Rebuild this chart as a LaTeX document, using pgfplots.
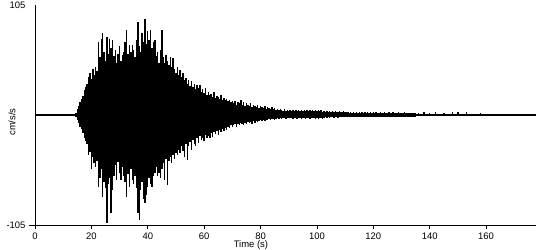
\documentclass[border=0pt]{standalone}
\usepackage{fontspec}
\setmainfont{Liberation Sans}
\usepackage{pgfplots}
\usepackage{pgfplotstable}
\pgfplotsset{compat=1.18}
\pgfplotstableread[row sep=\\]{
t up lo\\
14.5 2 -2\\ 15.0 6 -5\\ 15.5 9 -8\\ 16.0 12 -11\\ 16.5 15 -13\\ 17.0 18 -17\\ 17.5 24 -22\\ 18.0 27 -25\\ 18.5 30 -28\\ 19.0 36 -38\\
19.5 40 -35\\ 20.0 34 -52\\ 20.5 44 -40\\ 21.0 38 -46\\ 21.5 46 -50\\ 22.0 42 -44\\ 22.5 70 -69\\ 23.0 55 -60\\ 23.5 73 -52\\ 24.0 78 -78\\
24.5 60 -64\\ 25.0 52 -70\\ 25.5 74 -103\\ 26.0 58 -66\\ 26.5 73 -60\\ 27.0 64 -94\\ 27.5 72 -72\\ 28.0 56 -58\\ 28.5 62 -48\\ 29.0 50 -62\\
29.5 58 -45\\ 30.0 66 -55\\ 30.5 52 -62\\ 31.0 57 -50\\ 31.5 60 -58\\ 32.0 70 -64\\ 32.5 81 -78\\ 33.0 58 -56\\ 33.5 67 -69\\ 34.0 60 -52\\
34.5 67 -62\\ 35.0 62 -66\\ 35.5 55 -58\\ 36.0 72 -70\\ 36.5 89 -94\\ 37.0 66 -100\\ 37.5 60 -72\\ 38.0 78 -64\\ 38.5 70 -80\\ 39.0 92 -84\\
39.5 68 -76\\ 40.0 80 -69\\ 40.5 72 -60\\ 41.0 81 -66\\ 41.5 64 -69\\ 42.0 70 -58\\ 42.5 72 -55\\ 43.0 56 -50\\ 43.5 60 -58\\ 44.0 50 -55\\
44.5 62 -60\\ 45.0 81 -52\\ 45.5 55 -46\\ 46.0 50 -62\\ 46.5 57 -42\\ 47.0 52 -67\\ 47.5 48 -44\\ 48.0 55 -40\\ 48.5 46 -46\\ 49.0 54 -38\\
49.5 44 -42\\ 50.0 40 -36\\ 50.5 46 -38\\ 51.0 38 -33\\ 51.5 43 -36\\ 52.0 36 -30\\ 52.5 40 -34\\ 53.0 33 -40\\ 53.5 35 -28\\ 54.0 30 -43\\
54.5 33 -30\\ 55.0 28 -26\\ 55.5 32 -33\\ 56.0 27 -24\\ 56.5 30 -28\\ 57.0 25 -30\\ 57.5 29 -22\\ 58.0 26 -27\\ 58.5 29 -20\\ 59.0 22 -24\\
59.5 25 -22\\ 60.0 21 -25\\ 60.5 26 -19\\ 61.0 19 -22\\ 61.5 22 -20\\ 62.0 19 -22\\ 62.5 20 -17\\ 63.0 17 -21\\ 63.5 22 -16\\ 64.0 16 -18\\
64.5 18 -15\\ 65.0 17 -19\\ 65.5 15 -14\\ 66.0 19 -16\\ 66.5 14 -13\\ 67.0 16 -15\\ 67.5 14 -12\\ 68.0 15 -14\\ 68.5 13 -11\\ 69.0 14 -12\\
69.5 12 -10\\ 70.0 13 -11\\ 70.5 11 -10\\ 71.0 13 -9\\ 71.5 10 -11\\ 72.0 12 -9\\ 72.5 11 -10\\ 73.0 14 -8\\ 73.5 10 -9\\ 74.0 12 -10\\
74.5 9 -8\\ 75.0 11 -9\\ 75.5 10 -7\\ 76.0 9 -8\\ 76.5 11 -7\\ 77.0 8 -9\\ 77.5 10 -6\\ 78.0 9 -8\\ 78.5 8 -6\\ 79.0 10 -7\\
79.5 7 -6\\ 80.0 9 -5\\ 80.5 8 -6\\ 81.0 7 -5\\ 81.5 9 -6\\ 82.0 6 -5\\ 82.5 8 -5\\ 83.0 7 -4\\ 83.5 6 -5\\ 84.0 8 -4\\
84.5 6 -4\\ 85.0 7 -5\\ 85.5 5 -4\\ 86.0 6 -3\\ 86.5 5 -4\\ 87.0 6 -3\\ 87.5 5 -4\\ 88.0 4 -3\\ 88.5 6 -3\\ 89.0 4 -4\\
89.5 5 -3\\ 90.0 4 -3\\ 90.5 5 -3\\ 91.0 4 -3\\ 91.5 5 -4\\ 92.0 4 -3\\ 92.5 5 -3\\ 93.0 4 -4\\ 93.5 5 -3\\ 94.0 4 -3\\
94.5 5 -4\\ 95.0 4 -3\\ 95.5 5 -3\\ 96.0 4 -4\\ 96.5 5 -3\\ 97.0 4 -3\\ 97.5 5 -4\\ 98.0 4 -3\\ 98.5 5 -3\\ 99.0 4 -3\\
99.5 5 -4\\ 100.0 4 -3\\ 100.5 5 -4\\ 101.0 4 -3\\ 101.5 5 -3\\ 102.0 3 -4\\ 102.5 4 -3\\ 103.0 3 -2\\ 103.5 4 -3\\ 104.0 3 -2\\
104.5 4 -3\\ 105.0 3 -2\\ 105.5 4 -2\\ 106.0 3 -3\\ 106.5 4 -2\\ 107.0 3 -2\\ 107.5 3 -3\\ 108.0 4 -2\\ 108.5 3 -2\\ 109.0 3 -2\\
109.5 4 -2\\ 110.0 3 -2\\ 110.5 3 -2\\ 111.0 3 -2\\ 111.5 2 -2\\ 112.0 3 -2\\ 112.5 2 -1.5\\ 113.0 3 -2\\ 113.5 2 -2\\ 114.0 3 -1.5\\
114.5 2 -2\\ 115.0 3 -2\\ 115.5 2 -1.5\\ 116.0 3 -2\\ 116.5 2 -2\\ 117.0 3 -1.5\\ 117.5 2 -2\\ 118.0 2.5 -2\\ 118.5 2 -1.5\\ 119.0 3 -2\\
119.5 2 -1.5\\ 120.0 2.5 -2\\ 120.5 2 -1.5\\ 121.0 3 -2\\ 121.5 2 -1.5\\ 122.0 2 -2\\ 122.5 2.5 -1.5\\ 123.0 2 -1.5\\ 123.5 2 -2\\ 124.0 3 -1.5\\
124.5 2 -1.5\\ 125.0 2 -1.5\\ 125.5 2.5 -1.5\\ 126.0 2 -1.5\\ 126.5 2 -1.5\\ 127.0 3 -1.5\\ 127.5 2 -1.5\\ 128.0 2 -1.5\\ 128.5 2 -1.5\\ 129.0 2.5 -1.5\\
129.5 2 -1.5\\ 130.0 2 -1.5\\ 130.5 2 -1.5\\ 131.0 2.5 -1.5\\ 131.5 2 -1.5\\ 132.0 2 -1.5\\ 132.5 2 -1.5\\ 133.0 2 -1.5\\ 133.5 2 -1.5\\ 134.0 2 -1.5\\
134.5 2 -1.5\\ 135.0 2 -1.5\\ 136.0 1.5 -1\\ 137.0 1 -1\\ 138.0 2.5 -1\\ 139.0 1 -1\\ 140.0 2 -1\\ 141.0 1 -1\\ 142.0 2.5 -1\\ 143.0 1 -1\\
144.0 1 -1\\ 145.0 2 -1\\ 146.0 1 -1\\ 147.0 1 -1\\ 148.0 2.5 -1\\ 149.0 1 -1\\ 150.0 2.5 -1\\ 151.0 1 -1\\ 152.0 1 -1\\ 153.0 2.5 -1\\
154.0 1 -1\\ 155.0 1 -1\\ 156.0 1 -1\\ 157.0 1 -1\\ 158.0 2 -1\\ 159.0 1 -1\\ 160.0 1 -1\\
}\seis
\begin{document}
\begin{tikzpicture}
\begin{axis}[
  at={(0,0)}, anchor=south west,
  scale only axis, width=501bp, height=220bp,
  xmin=0, xmax=177.7, ymin=-105, ymax=105,
  axis lines*=left,
  axis line style={black, line width=0.8bp},
  x axis line style={shorten <=-6bp},
  xtick={0,20,...,160}, ytick={-105,105},
  tick align=outside, major tick length=4bp,
  xtick style={black, line width=0.8bp},
  ytick style={draw=none},
  /pgf/number format/assume math mode=true,
  ticklabel style={font=\fontsize{9.5}{11}\selectfont},
  yticklabel style={xshift=-2bp},
  xlabel={Time (s)}, ylabel={cm/s/s},
  label style={font=\fontsize{9.5}{11}\selectfont},
  xlabel style={at={(axis description cs:0.431,0)}, anchor=center, yshift=-20bp},
  ylabel style={at={(axis description cs:-0.046,0.468)}, anchor=center},
]
\addplot[black, line width=1.6bp] coordinates {(0,0) (177.7,0)};
\addplot[black, ycomb, line width=1.45bp, mark=none] table[x=t, y=up] {\seis};
\addplot[black, ycomb, line width=1.45bp, mark=none] table[x=t, y=lo] {\seis};
\end{axis}
\pgfresetboundingbox
\path[use as bounding box] (-35bp,-25bp) rectangle (515bp,225bp);
\end{tikzpicture}
\end{document}
